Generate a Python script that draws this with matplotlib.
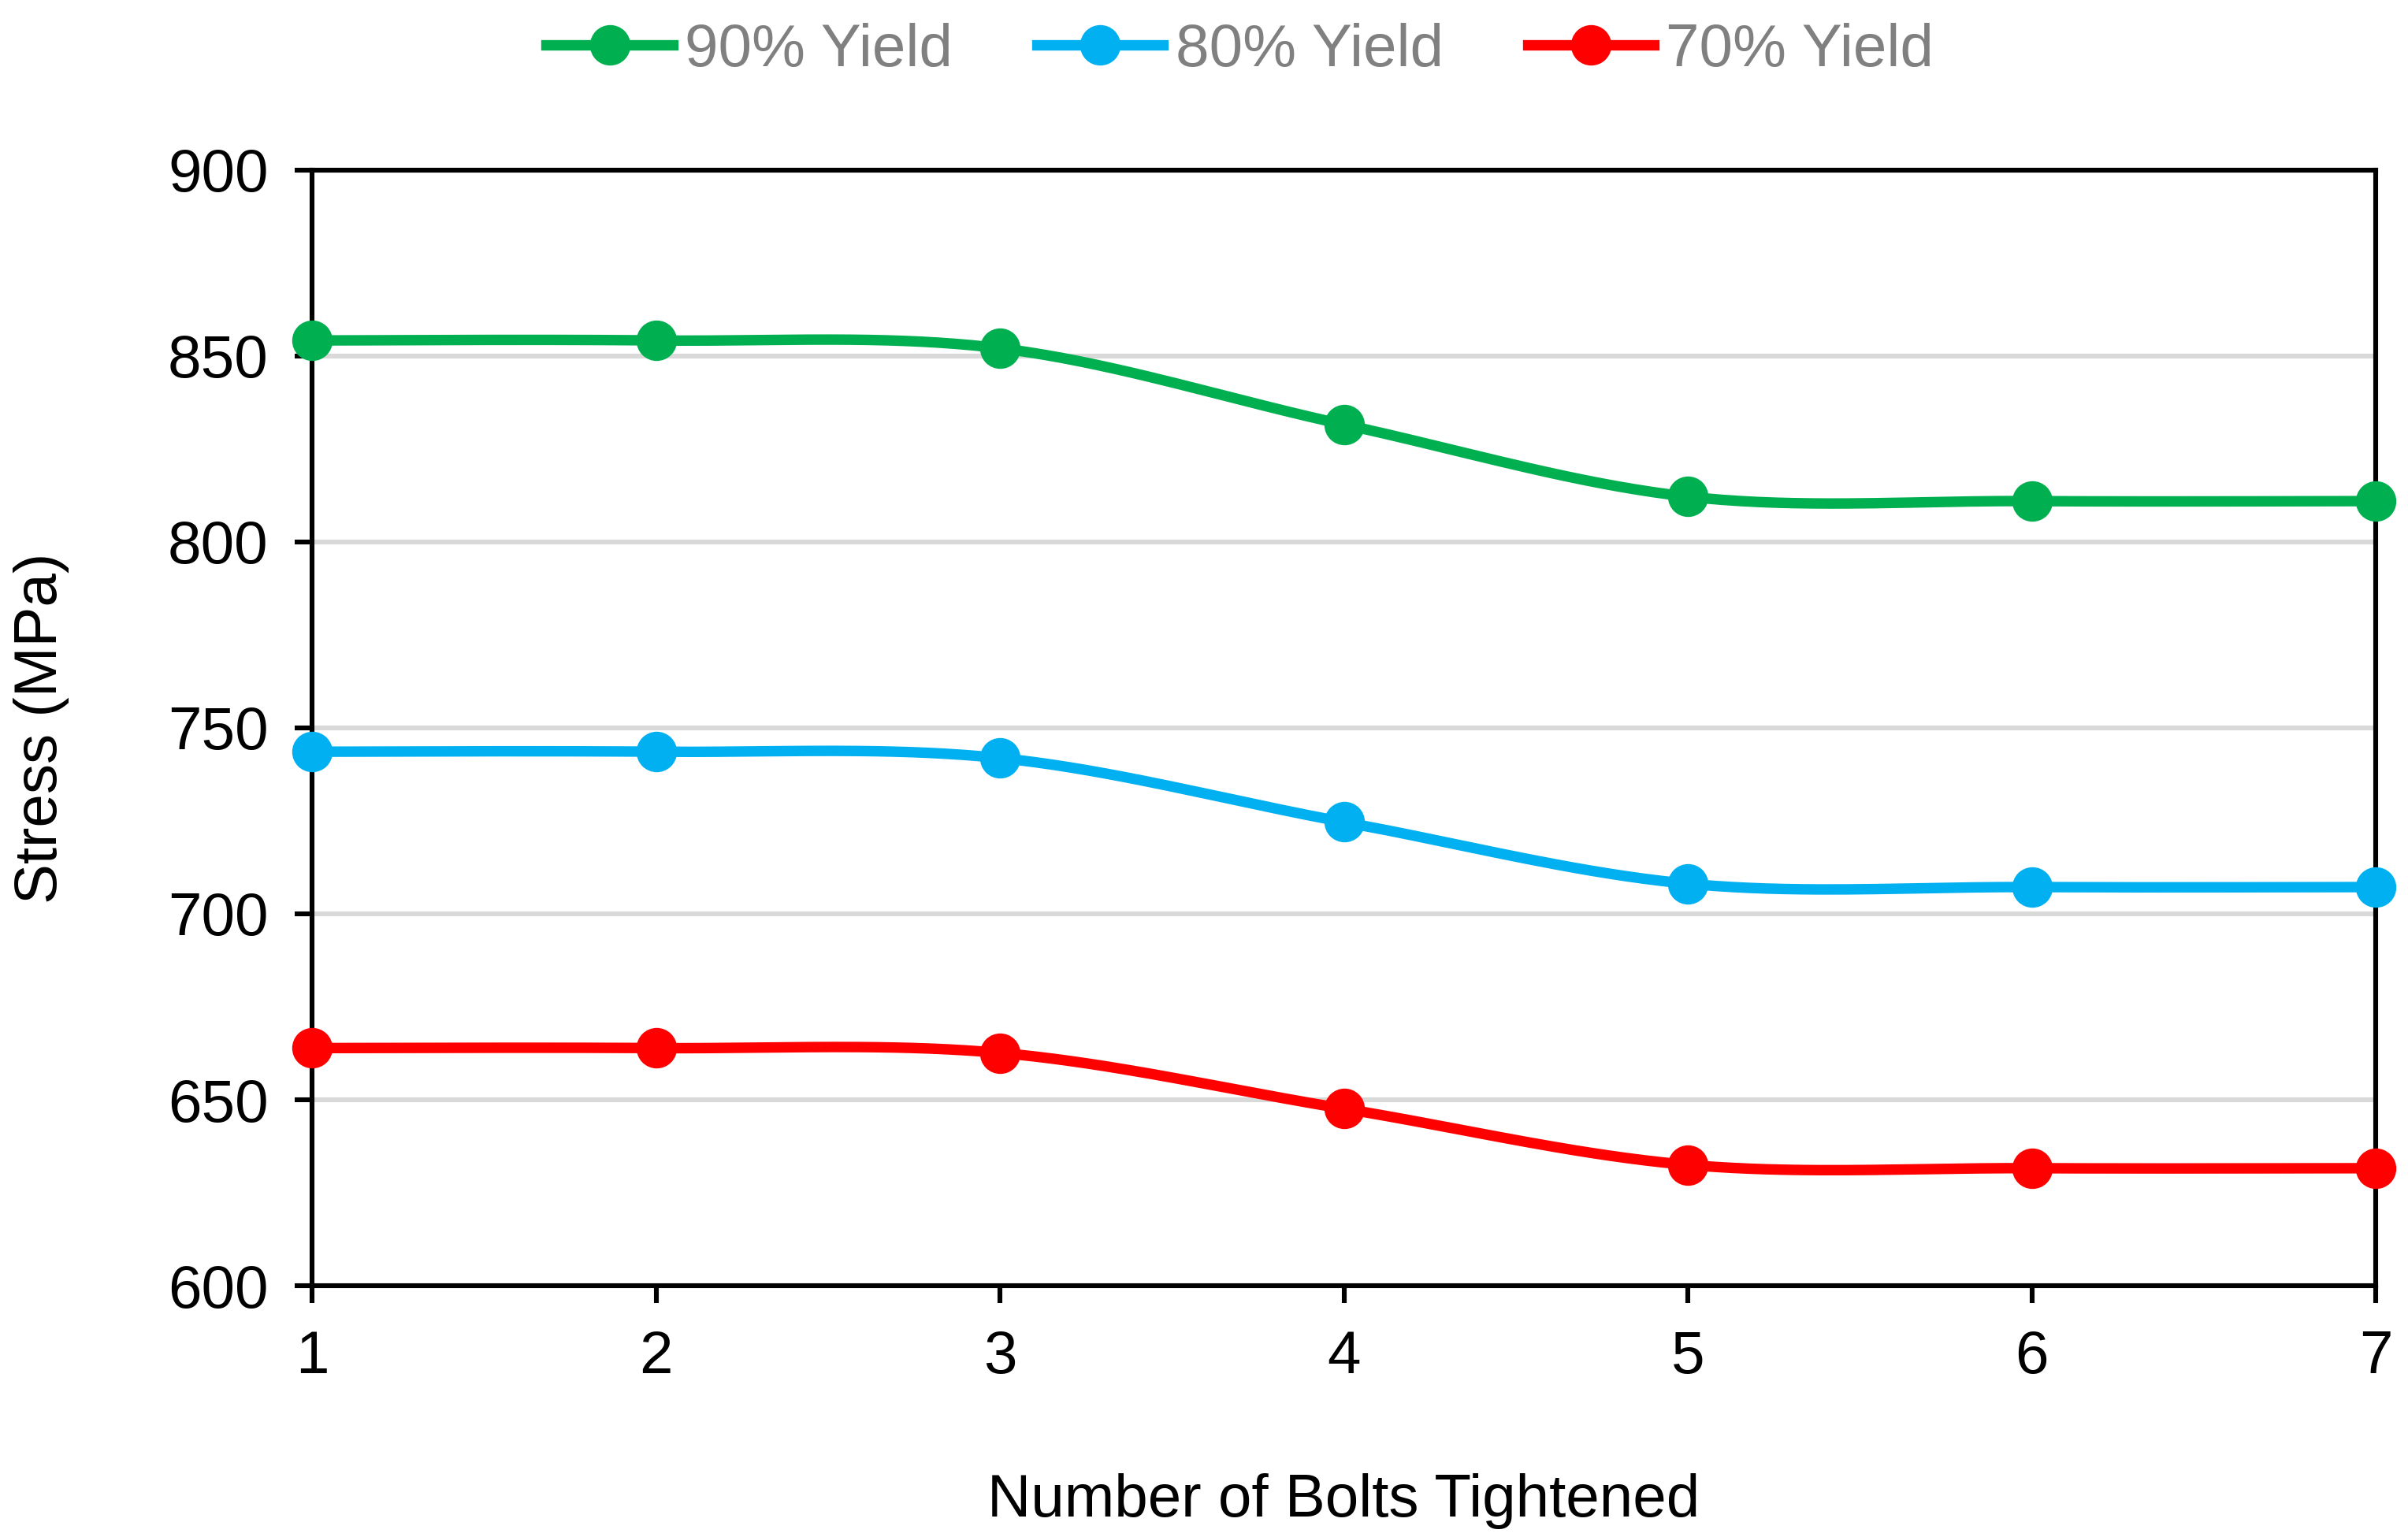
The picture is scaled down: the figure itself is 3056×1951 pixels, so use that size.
import numpy as np
import matplotlib
matplotlib.use("Agg")
import matplotlib.pyplot as plt

plt.rcParams['font.family'] = ['Liberation Sans', 'DejaVu Sans']

# Datos
bolts = np.array([1, 2, 3, 4, 5, 6, 7])
yield_90 = np.array([854.2, 854.2, 852.1, 831.6, 812.2, 811.0, 811.0])
yield_80 = np.array([743.6, 743.6, 741.9, 724.7, 708.1, 707.2, 707.2])
yield_70 = np.array([663.9, 663.9, 662.6, 647.6, 632.5, 631.6, 631.6])

labels = ['90% Yield', '80% Yield', '70% Yield']
colors = ['#00B050', '#00B0F0', '#FF0000']


def smooth(x, y, n=40):
    # curva suave tipo Excel (Catmull-Rom / Bezier)
    px = np.concatenate([[x[0]], x, [x[-1]]])
    py = np.concatenate([[y[0]], y, [y[-1]]])
    xs, ys = [], []
    t = np.linspace(0, 1, n)
    for i in range(1, len(px) - 2):
        p0 = np.array([px[i], py[i]])
        p3 = np.array([px[i + 1], py[i + 1]])
        p1 = p0 + (np.array([px[i + 1], py[i + 1]]) - np.array([px[i - 1], py[i - 1]])) / 6
        p2 = p3 - (np.array([px[i + 2], py[i + 2]]) - np.array([px[i], py[i]])) / 6
        b = ((1 - t) ** 3)[:, None] * p0 + (3 * (1 - t) ** 2 * t)[:, None] * p1 \
            + (3 * (1 - t) * t ** 2)[:, None] * p2 + (t ** 3)[:, None] * p3
        xs.extend(b[:, 0])
        ys.extend(b[:, 1])
    return np.array(xs), np.array(ys)


fig = plt.figure(figsize=(15.28, 9.755), dpi=200)
ax = fig.add_axes([0.1296, 0.1635, 0.857, 0.7258])

for series, lab, col in zip([yield_90, yield_80, yield_70], labels, colors):
    sx, sy = smooth(bolts, series)
    ax.plot(sx, sy, color=col, lw=4.8, solid_capstyle='round', zorder=3, clip_on=False)
    ax.plot(bolts, series, 'o', color=col, ms=17.5, zorder=4, clip_on=False)
    ax.plot([], [], '-o', color=col, lw=4.8, ms=17.5, label=lab)

ax.set_xlim(1, 7)
ax.set_ylim(600, 900)
ax.set_xticks(bolts)
ax.set_yticks(np.arange(600, 901, 50))
ax.yaxis.grid(True, color='#D9D9D9', lw=2.2)
ax.set_axisbelow(True)
for s in ax.spines.values():
    s.set_linewidth(2.2)
    s.set_color('black')
ax.tick_params(axis='both', direction='out', length=8, width=2.2, labelsize=27.5, pad=12)

ax.set_xlabel('Number of Bolts Tightened', fontsize=27.5, labelpad=40)
ax.set_ylabel('Stress (MPa)', fontsize=27.5, labelpad=45)

leg = fig.legend(loc='center', bbox_to_anchor=(0.515, 0.967), ncol=3, frameon=False,
                 fontsize=27.5, handlelength=2.1, handletextpad=0.2, columnspacing=1.4)
for txt in leg.get_texts():
    txt.set_color('#808080')

fig.savefig('out.png', dpi=200)
